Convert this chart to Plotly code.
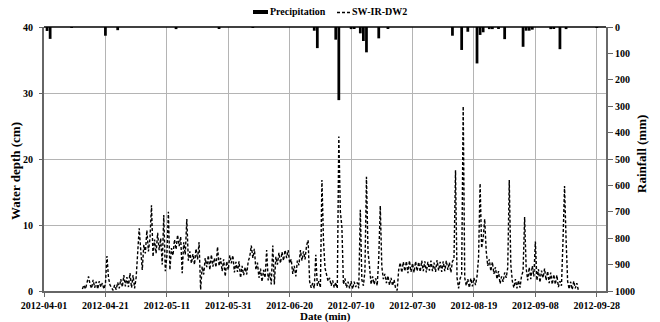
import pandas as pd
import plotly.graph_objects as go

# ---------------- data ----------------
# Daily precipitation (mm), hanging bars on reversed right axis
rain_dates = ["2012-04-02", "2012-04-03", "2012-04-10", "2012-04-21", "2012-04-25",
              "2012-05-14", "2012-05-28", "2012-06-08", "2012-06-28", "2012-06-29",
              "2012-07-05", "2012-07-06", "2012-07-10", "2012-07-11", "2012-07-13",
              "2012-07-14", "2012-07-15", "2012-07-19", "2012-07-22", "2012-08-12",
              "2012-08-15", "2012-08-17", "2012-08-20", "2012-08-21", "2012-08-22",
              "2012-08-24", "2012-08-25", "2012-08-27", "2012-08-29", "2012-09-04",
              "2012-09-05", "2012-09-06", "2012-09-07", "2012-09-13", "2012-09-14",
              "2012-09-16", "2012-09-18", "2012-09-28"]
rain_mm = [15, 45, 3, 33, 12,
           8, 4, 2, 14, 80,
           48, 277, 8, 4, 24,
           53, 96, 43, 5, 33,
           87, 18, 138, 30, 20,
           8, 8, 5, 46, 75,
           14, 14, 10, 8, 5,
           84, 8, 2]

# Water depth (cm) at 12-hour steps, one list per month
depth_apr_start = "2012-04-13 12:00"
depth_apr = [0.3, 0.9, 0.3, 1.3, 2.2, 1.0, 0.4, 1.7, 0.5, 1.4, 0.3, 1.5, 0.6, 1.2, 0.3,
             1.1, 5.3, 2.0, 0.9, 0.5, 0.1, 0.9, 0.2, 1.3, 0.4, 1.8, 0.6, 2.4, 0.7, 2.1,
             0.6, 2.7, 0.5, 2.4, 0.4]
depth_may_start = "2012-05-01 00:00"
depth_may = [2.0, 6.5, 9.5, 6.2, 3.2, 7.0, 5.7, 9.2, 6.0, 7.9, 13.0, 5.2, 7.8, 5.7, 8.8,
             6.2, 8.0, 4.0, 11.5, 3.0, 5.2, 12.0, 3.2, 6.5, 5.4, 7.8, 6.3, 8.5, 6.8, 8.2,
             2.7, 7.4, 5.5, 10.9, 4.6, 6.0, 4.2, 5.6, 4.0, 6.4, 4.8, 7.4, 0.2, 3.7, 2.5,
             5.0, 3.6, 5.4, 3.2, 5.5, 3.7, 5.0, 3.6, 6.7, 3.8, 5.0, 3.0, 4.8, 2.2, 4.5,
             3.2, 5.4]
depth_jun_start = "2012-06-01 00:00"
depth_jun = [4.2, 5.4, 2.8, 4.4, 2.9, 4.5, 2.0, 3.8, 2.4, 3.6, 2.5, 4.5, 5.2, 6.9, 5.0,
             6.4, 3.2, 4.3, 2.0, 3.4, 1.4, 3.2, 2.0, 6.2, 1.6, 2.8, 1.0, 6.9, 1.0, 5.2,
             4.0, 5.8, 4.2, 5.9, 4.6, 6.2, 5.0, 6.2, 4.2, 4.8, 2.6, 3.8, 2.2, 4.6, 3.9,
             6.2, 4.6, 6.0, 4.8, 6.9, 7.7, 1.4, 0.5, 1.2, 0.4, 5.5, 0.8, 1.5, 0.5, 16.8]
depth_jul_start = "2012-07-01 00:00"
depth_jul = [7.7, 3.5, 2.7, 1.5, 2.0, 0.8, 1.6, 0.5, 1.3, 0.4, 23.4, 12.0, 9.7, 1.0, 1.9,
             0.5, 1.4, 0.4, 1.5, 0.3, 1.4, 0.6, 1.3, 0.4, 12.3, 1.7, 0.8, 3.0, 17.3, 6.0,
             3.7, 1.0, 2.2, 1.0, 1.9, 0.8, 5.0, 12.9, 3.7, 1.8, 2.6, 1.2, 2.3, 0.9, 2.0,
             0.8, 1.7, 0.4, 0.1, 3.2, 4.3, 2.8, 4.4, 3.0, 4.5, 2.7, 4.6, 2.9, 4.2, 2.8,
             4.5, 3.0]
depth_aug_start = "2012-08-01 00:00"
depth_aug = [4.4, 2.9, 4.6, 3.0, 4.5, 2.8, 4.4, 3.1, 4.6, 3.0, 4.3, 2.9, 4.7, 3.1, 4.4,
             2.9, 4.5, 3.0, 4.6, 3.2, 4.3, 2.8, 4.5, 4.8, 18.3, 2.0, 0.4, 1.9, 2.5, 28.0,
             2.0, 0.8, 1.8, 0.5, 1.9, 0.7, 2.0, 0.9, 2.2, 5.0, 16.3, 6.5, 8.0, 10.9, 6.0,
             3.8, 4.8, 3.0, 4.4, 2.6, 3.6, 1.8, 3.0, 1.1, 2.2, 1.4, 2.8, 2.0, 3.5, 16.8,
             4.0, 1.5]
depth_sep_start = "2012-09-01 00:00"
depth_sep = [0.5, 1.8, 0.4, 1.6, 0.5, 2.3, 3.0, 11.2, 3.5, 1.6, 3.6, 1.8, 3.8, 2.2, 7.5,
             1.6, 3.3, 1.3, 3.1, 2.0, 3.4, 1.6, 3.0, 1.2, 2.8, 1.0, 2.5, 1.0, 2.4, 0.6,
             1.5, 0.8, 7.7, 15.9, 7.8, 1.5, 0.3, 1.4, 0.2, 1.5, 0.4, 1.2, 0.1]

x_ticks_start = "2012-04-01"
x_range = ["2012-04-01", "2012-10-01"]

# ---------------- build series ----------------
segments = [(depth_apr_start, depth_apr), (depth_may_start, depth_may),
            (depth_jun_start, depth_jun), (depth_jul_start, depth_jul),
            (depth_aug_start, depth_aug), (depth_sep_start, depth_sep)]
depth_t, depth_v = [], []
for start, vals in segments:
    depth_t += list(pd.date_range(start, periods=len(vals), freq="12h"))
    depth_v += vals

FONT = "Liberation Serif, Times New Roman, serif"
DAY_MS = 86400000
L, R, T, B = 44, 606, 27, 291   # plot area in pixels
W, H = 660, 322


def px_x(px):
    return (px - L) / (R - L)


def px_y(py):
    return (B - py) / (B - T)


fig = go.Figure()
fig.add_trace(go.Bar(x=rain_dates, y=rain_mm, yaxis="y2", name="Precipitation",
                     marker=dict(color="black", line=dict(width=0)),
                     width=0.9 * DAY_MS, showlegend=False))
fig.add_trace(go.Scatter(x=depth_t, y=depth_v, mode="lines", name="SW-IR-DW2",
                         line=dict(color="black", width=1.4, dash="3px,2px"),
                         showlegend=False))

axis_font = dict(family=FONT, size=10, weight="bold", color="black")
fig.update_layout(
    width=W, height=H,
    margin=dict(l=L, r=W - R, t=T, b=H - B, autoexpand=False),
    paper_bgcolor="white", plot_bgcolor="white",
    font=dict(family=FONT, size=10, color="black", weight="bold"),
    showlegend=False,
    xaxis=dict(type="date", range=x_range, tick0=x_ticks_start, dtick=20 * DAY_MS,
               tickformat="%Y-%m-%d", showgrid=True, gridcolor="#b4b4b4", gridwidth=1,
               showline=True, linecolor="#666666", linewidth=2,
               ticks="outside", ticklen=4, tickcolor="#666666",
               tickfont=axis_font, automargin=False, zeroline=False),
    yaxis=dict(range=[0, 40], dtick=10, showgrid=True, gridcolor="#b4b4b4", gridwidth=1,
               showline=True, linecolor="#666666", linewidth=2,
               ticks="outside", ticklen=3, tickcolor="#666666",
               ticklabelstandoff=4,
               tickfont=axis_font, automargin=False, zeroline=False),
    yaxis2=dict(range=[1000, 0], dtick=100, overlaying="y", side="right",
                showgrid=False, showline=True, linecolor="#666666", linewidth=2,
                ticks="outside", ticklen=5, tickcolor="#666666",
                tickfont=axis_font, automargin=False, zeroline=False),
)

# top frame line
fig.add_shape(type="line", xref="paper", yref="paper", x0=0, x1=1, y0=1, y1=1,
              line=dict(color="black", width=1.5))


def label(text, px, py, size, angle=0, xanchor="center"):
    fig.add_annotation(text=text, xref="paper", yref="paper",
                       x=px_x(px), y=px_y(py), textangle=angle, showarrow=False,
                       xanchor=xanchor, yanchor="middle",
                       font=dict(family=FONT, size=size, weight="bold", color="black"))


# axis titles
label("Water depth (cm)", 15, 171, 13, angle=-90)
label("Rainfall (mm)", 641, 154, 13, angle=-90)
label("Date (min)", 325, 316, 11)

# legend (drawn)
fig.add_shape(type="rect", xref="paper", yref="paper",
              x0=px_x(253), x1=px_x(268), y0=px_y(14), y1=px_y(10),
              fillcolor="black", line=dict(width=0))
label("Precipitation", 268, 12, 10, xanchor="left")
fig.add_shape(type="line", xref="paper", yref="paper",
              x0=px_x(337), x1=px_x(352), y0=px_y(12.5), y1=px_y(12.5),
              line=dict(color="black", width=1.3, dash="3px,2px"))
label("SW-IR-DW2", 350, 12, 10, xanchor="left")

fig.write_html("out.html",
               config={"displayModeBar": False},
               post_script="document.body.style.margin='0';"
                           "document.body.style.overflow='hidden';")
